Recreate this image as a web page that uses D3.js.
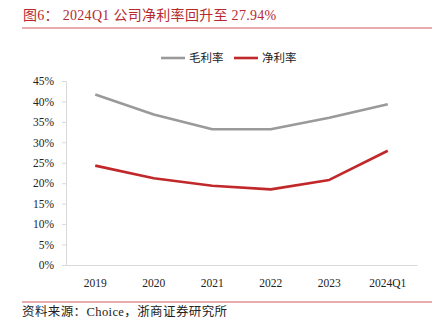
<!DOCTYPE html>
<html><head><meta charset="utf-8">
<script src="https://cdn.jsdelivr.net/npm/d3@7"></script>
<style>body{margin:0;background:#fff}svg{display:block}</style>
</head><body>
<script>
const categories = ["2019","2020","2021","2022","2023","2024Q1"];
const grossMargin = [41.7, 36.8, 33.2, 33.2, 36.0, 39.3];
const netMargin = [24.3, 21.2, 19.4, 18.5, 20.8, 27.94];
const yTicks = [0,5,10,15,20,25,30,35,40,45];
const seriesNames = ["毛利率","净利率"];
const colors = ["#9a9a9a","#c0282a"];

const W=443,H=329;
const svg=d3.select("body").append("svg").attr("width",W).attr("height",H);
const serif="'Liberation Serif','Times New Roman','Noto Sans CJK SC',serif";

svg.append("text").attr("x",23).attr("y",20).attr("fill","#b8292f")
  .style("font-family",serif).style("font-size","14px").style("letter-spacing","0.3px")
  .text("图6：  2024Q1 公司净利率回升至 27.94%");
svg.append("line").attr("x1",22).attr("x2",432).attr("y1",28).attr("y2",28).attr("stroke","#d35a5a").attr("stroke-width",1);

const x=d3.scaleBand().domain(categories).range([66,417]);
const y=d3.scaleLinear().domain([0,45]).range([265,81]);

const yAxis=svg.append("g").attr("transform","translate(66,0)")
  .call(d3.axisLeft(y).tickValues(yTicks).tickFormat(d=>d+"%").tickSize(4).tickPadding(8));
yAxis.select(".domain").attr("stroke","#d9d9d9");
yAxis.selectAll(".tick line").attr("stroke","#d9d9d9");
yAxis.selectAll("text").style("font-family",serif).style("font-size","11.5px").attr("fill","#222");

const xAxis=svg.append("g").attr("transform","translate(0,265)")
  .call(d3.axisBottom(x).tickSize(0).tickPadding(14));
xAxis.select(".domain").attr("stroke","#d9d9d9");
xAxis.selectAll("text").style("font-family",serif).style("font-size","11.5px").attr("fill","#222");

const line=d3.line().x((d,i)=>x(categories[i])+x.bandwidth()/2).y(d=>y(d));
[grossMargin,netMargin].forEach((s,k)=>{
  svg.append("path").datum(s).attr("d",line).attr("fill","none")
    .attr("stroke",colors[k]).attr("stroke-width",2.6).attr("stroke-linejoin","round");
});

// legend
const lg=[{x:161,n:seriesNames[0],c:colors[0]},{x:234,n:seriesNames[1],c:colors[1]}];
lg.forEach(d=>{
  svg.append("line").attr("x1",d.x).attr("x2",d.x+24).attr("y1",58).attr("y2",58).attr("stroke",d.c).attr("stroke-width",2.6);
  svg.append("text").attr("x",d.x+28).attr("y",62).style("font-family",serif).style("font-size","11.5px").attr("fill","#222").text(d.n);
});

svg.append("line").attr("x1",22).attr("x2",432).attr("y1",302).attr("y2",302).attr("stroke","#d35a5a").attr("stroke-width",1);
svg.append("text").attr("x",22).attr("y",316).style("font-family",serif).style("font-size","12.5px").style("letter-spacing","0.4px").attr("fill","#222")
  .text("资料来源：Choice，浙商证券研究所");
</script>
</body></html>
